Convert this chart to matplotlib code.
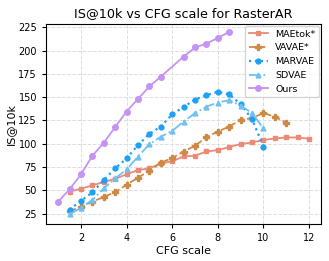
import matplotlib
matplotlib.use("Agg")
import matplotlib.pyplot as plt
import numpy as np

# CFG scale values per method
x_maetok = [1.5, 2, 2.5, 3, 3.5, 4, 4.5, 5, 5.5, 6, 6.5, 7, 7.5, 8, 8.5, 9, 9.5, 10, 10.5, 11, 11.5, 12]
y_maetok = [48.6, 51.8, 55.4, 59, 62.5, 67.2, 71.8, 73.6, 79, 81.1, 86.5, 87.1, 91.8, 93.2, 96.5, 99.7, 101.4, 104, 105.7, 106.8, 106.8, 105.4]

x_vavae = [1.5, 2, 2.5, 3, 3.5, 4, 4.5, 5, 5.5, 6, 6.5, 7, 7.5, 8, 8.5, 9, 9.5, 10, 10.5, 11]
y_vavae = [27.9, 32.2, 37.9, 42.9, 48.2, 56.1, 63.6, 71.1, 79.6, 84.7, 91.7, 97.8, 107.1, 113.1, 118.5, 125.6, 127.5, 133.0, 129.0, 122.7]

x_marvae = [1.5, 2, 2.5, 3, 3.5, 4, 4.5, 5, 5.5, 6, 6.5, 7, 7.5, 8, 8.5, 9, 9.5, 10]
y_marvae = [29.3, 38.9, 47.9, 61.1, 73.6, 84.3, 98.6, 110.5, 118.5, 131.5, 139.5, 147.5, 152.0, 155.8, 153.0, 142.5, 126.5, 97.0]

x_sdvae = [1.5, 2, 2.5, 3, 3.5, 4, 4.5, 5, 5.5, 6, 6.5, 7, 7.5, 8, 8.5, 9, 9.5, 10]
y_sdvae = [24.3, 31.4, 39.6, 52.1, 62.8, 72.5, 86.1, 99.7, 107.5, 113.8, 123.8, 132.8, 139.9, 144.2, 146.8, 141.0, 133.0, 116.5]

x_ours = [1, 1.5, 2, 2.5, 3, 3.5, 4, 4.5, 5, 5.5, 6.5, 7, 7.5, 8, 8.5]
y_ours = [37.9, 51.1, 67.2, 87.1, 101, 118, 134.6, 148.2, 161.5, 172, 193.5, 203.3, 207.5, 213.5, 220]

fig = plt.figure(figsize=(3.29, 2.61), dpi=100)
ax = fig.add_axes([0.14, 0.142, 0.836, 0.766])

ax.plot(x_maetok, y_maetok, color='#EC8A78', marker='s', ms=3.5, lw=1.3, ls='-', label='MAEtok*')
ax.plot(x_vavae, y_vavae, color='#CD8A45', marker='P', ms=4, lw=1.3, ls='--', label='VAVAE*')
ax.plot(x_marvae, y_marvae, color='#1EA0F5', marker='o', ms=3.5, lw=1.6, ls=':', label='MARVAE')
ax.plot(x_sdvae, y_sdvae, color='#70C0F2', marker='^', ms=3.5, lw=1.3, ls='-.', label='SDVAE')
ax.plot(x_ours, y_ours, color='#C593F2', marker='o', ms=4, lw=1.3, ls='-', label='Ours')

ax.set_xlim(0.47, 12.53)
ax.set_ylim(14, 228.5)
ax.set_xticks([2, 4, 6, 8, 10, 12])
ax.set_yticks([25, 50, 75, 100, 125, 150, 175, 200, 225])
ax.tick_params(labelsize=7, length=3)
ax.grid(True, ls='--', color='#dddddd', lw=0.7)
ax.set_xlabel('CFG scale', fontsize=8, labelpad=2)
ax.set_ylabel('IS@10k', fontsize=8, labelpad=2)
ax.set_title('IS@10k vs CFG scale for RasterAR', fontsize=9.2, pad=5)
ax.legend(loc='upper right', fontsize=6.8, borderaxespad=0.2)

fig.savefig('out.png', dpi=100)
